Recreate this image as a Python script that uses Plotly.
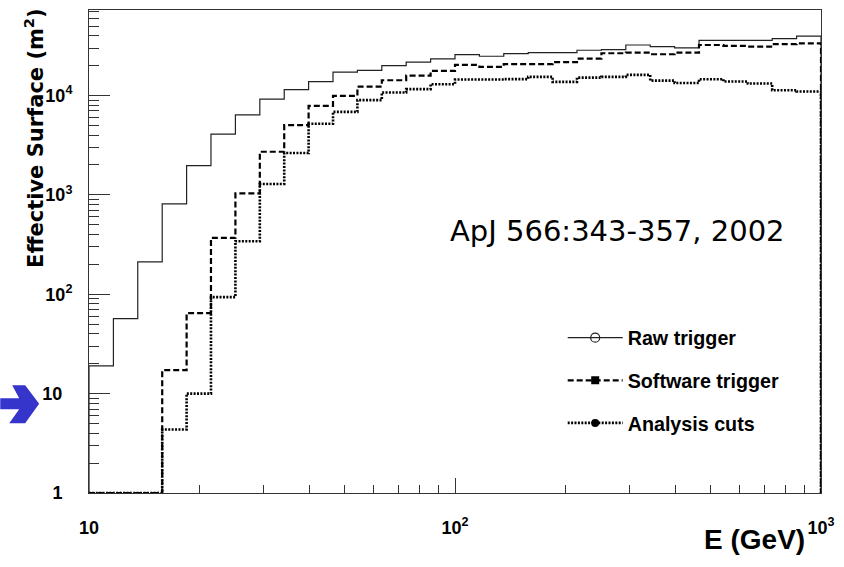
import plotly.graph_objects as go

# ---------------- data ----------------
E_EDGES = [10.0, 11.66, 13.59, 15.85, 18.48, 21.54, 25.12, 29.29, 34.15, 39.81,
           46.42, 54.12, 63.10, 73.56, 85.77, 100.0, 116.6, 135.9, 158.5, 184.8,
           215.4, 251.2, 292.9, 341.5, 398.1, 464.2, 541.2, 631.0, 735.6, 857.7, 1000.0]

RAW_TRIGGER = [19.0, 56.7, 212, 811, 1964, 4085, 6390, 9180, 11460, 13780,
               17200, 17900, 19950, 21700, 23300, 25750, 24800, 26350, 26970, 26970,
               28500, 28900, 32200, 31000, 30060, 35900, 35900, 35900, 37250, 39600]

SOFTWARE_TRIGGER = [0, 0, 0, 17.2, 64.6, 369, 1035, 2714, 5035, 7870,
                    9900, 12280, 14230, 15850, 17660, 20300, 19400, 20700, 20700, 21700,
                    23500, 26600, 27000, 26000, 27000, 32200, 31500, 31000, 32800, 33500]

ANALYSIS_CUTS = [0, 0, 0, 4.36, 10.0, 93.5, 341, 1286, 2635, 5190,
                 6840, 8970, 10700, 11570, 12980, 14460, 14460, 14600, 15370, 13700,
                 15130, 15370, 16100, 14120, 13360, 14580, 13800, 13180, 11300, 10950]

SERIES_NAMES = ["Raw trigger", "Software trigger", "Analysis cuts"]
Y_TICK_VALS = [1, 10, 100, 1000, 10000]
Y_TICK_TEXT = ["1\u00a0\u00a0", "10\u00a0\u00a0", "10<sup>2</sup>", "10<sup>3</sup>", "10<sup>4</sup>"]
X_TICK_VALS = [10, 100, 1000]
X_TICK_TEXT = ["10", "10<sup>2</sup>", "10<sup>3</sup>"]
ANNOT_TEXT = "ApJ 566:343-357, 2002"
X_TITLE = "E (GeV)"
Y_TITLE = "Effective Surface (m<sup>2</sup>)"

Y_MIN_LOG, Y_MAX_LOG = 0.0, 4.86
Y_FLOOR = 10 ** Y_MIN_LOG

# ---------------- layout geometry ----------------
W, H = 844, 567
ML, MR, MT, MB = 89, 21, 9, 74
PW, PH = W - ML - MR, H - MT - MB


def px(x):
    return (x - ML) / PW


def py(y):
    return (H - MB - y) / PH


def hist_xy(values):
    ys = [v if v > 0 else Y_FLOOR for v in values]
    xs = [E_EDGES[0]] + E_EDGES[:-1] + [E_EDGES[-1], E_EDGES[-1]]
    yy = [Y_FLOOR] + ys + [ys[-1], Y_FLOOR]
    return xs, yy


styles = [
    dict(color="#222222", width=1.2, dash="solid"),
    dict(color="#000000", width=2.2, dash="6px,3px"),
    dict(color="#000000", width=2.6, dash="2px,1.4px"),
]
markers = [
    dict(symbol="circle-open", size=9, color="#222222", line=dict(width=1.2)),
    dict(symbol="square", size=8, color="#000000"),
    dict(symbol="circle", size=8, color="#000000"),
]

fig = go.Figure()
for name, vals, st in zip(SERIES_NAMES, [RAW_TRIGGER, SOFTWARE_TRIGGER, ANALYSIS_CUTS], styles):
    xs, ys = hist_xy(vals)
    fig.add_trace(go.Scatter(x=xs, y=ys, mode="lines", line_shape="hv",
                             line=st, showlegend=False, name=name, hoverinfo="skip"))

for i, (name, st, mk) in enumerate(zip(SERIES_NAMES, styles, markers)):
    fig.add_trace(go.Scatter(x=[None], y=[None], mode="lines+markers", name=name,
                             line=st, marker=mk, legendgroup=f"g{i}", showlegend=True))

axis_common = dict(
    type="log", showgrid=False, zeroline=False,
    showline=True, linecolor="#333333", linewidth=1, mirror=True,
    ticks="inside", tickcolor="#333333", tickwidth=1,
    tickfont=dict(family="Liberation Sans", size=18, color="black", weight="bold"),
)

fig.update_xaxes(**axis_common, range=[1, 3], tickmode="array",
                 tickvals=X_TICK_VALS, ticktext=X_TICK_TEXT, ticklen=15,
                 ticklabelstandoff=18,
                 minor=dict(ticks="inside", ticklen=8, tickcolor="#333333", dtick="D1", showgrid=False))
fig.update_yaxes(**axis_common, range=[Y_MIN_LOG, Y_MAX_LOG], tickmode="array",
                 tickvals=Y_TICK_VALS, ticktext=Y_TICK_TEXT, ticklen=21,
                 ticklabelstandoff=12,
                 minor=dict(ticks="inside", ticklen=10, tickcolor="#333333", dtick="D1", showgrid=False))

# blue arrow at the left (decoration)
arrow_pts = [(0, 398), (19, 398), (12, 385), (25, 385), (39, 403.5),
             (25, 423), (9, 423), (19, 409), (0, 409)]
path = "M " + " L ".join(f"{px(x):.5f},{py(y):.5f}" for x, y in arrow_pts) + " Z"
fig.add_shape(type="path", path=path, xref="paper", yref="paper",
              fillcolor="#3535cc", line=dict(width=0))

fig.add_annotation(text=ANNOT_TEXT, x=px(619), y=py(230), xref="paper", yref="paper",
                   showarrow=False, xanchor="center", yanchor="middle",
                   font=dict(family="DejaVu Sans", size=29, color="black"))
fig.add_annotation(text=X_TITLE, x=px(809), y=py(540), xref="paper", yref="paper",
                   showarrow=False, xanchor="right", yanchor="middle",
                   font=dict(family="Liberation Sans", size=28, color="black", weight="bold"))
fig.add_annotation(text=Y_TITLE, x=px(34), y=py(137), xref="paper", yref="paper",
                   showarrow=False, xanchor="center", yanchor="middle", textangle=-90,
                   font=dict(family="DejaVu Sans", size=21, color="black", weight="bold"))

fig.update_layout(
    width=W, height=H,
    margin=dict(l=ML, r=MR, t=MT, b=MB, pad=0),
    paper_bgcolor="white", plot_bgcolor="white",
    showlegend=True,
    legend=dict(x=px(564), y=py(318), xanchor="left", yanchor="top",
                bgcolor="rgba(0,0,0,0)", borderwidth=0, itemwidth=55,
                tracegroupgap=14, traceorder="grouped",
                font=dict(family="Liberation Sans", size=19.7, color="black", weight="bold")),
)

fig.write_html("out.html", config={"displayModeBar": False},
               post_script="document.body.style.margin='0px';")
